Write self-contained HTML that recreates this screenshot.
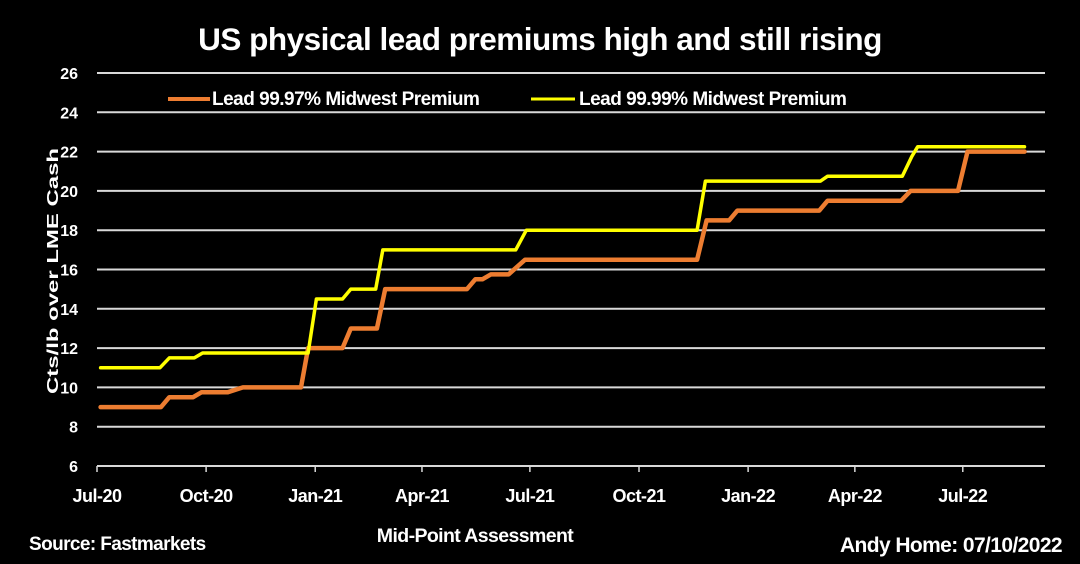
<!DOCTYPE html>
<html><head><meta charset="utf-8"><style>
html,body{margin:0;padding:0;background:#000;}
svg text{font-family:"Liberation Sans",sans-serif;font-weight:bold;fill:#fff;}
</style></head><body>
<svg id="chart" width="1080" height="559" xmlns="http://www.w3.org/2000/svg">
<rect width="1080" height="559" fill="#000"/>
<text x="540" y="50" text-anchor="middle" font-size="31.5" letter-spacing="-0.5">US physical lead premiums high and still rising</text>
<g id="grid"></g><g id="xaxis"></g><g id="series"></g>
<text transform="translate(58,271) rotate(-90)" text-anchor="middle" font-size="16" textLength="246" lengthAdjust="spacingAndGlyphs">Cts/lb over LME Cash</text>
<text x="475" y="542" text-anchor="middle" font-size="19.5" letter-spacing="-0.6">Mid-Point Assessment</text>
<text x="29" y="550" font-size="19" letter-spacing="-0.6">Source: Fastmarkets</text>
<text x="1062" y="552" text-anchor="end" font-size="21" letter-spacing="-0.6">Andy Home: 07/10/2022</text>
<g>
<line x1="168" y1="99" x2="210" y2="99" stroke="#ED7D31" stroke-width="4"/>
<text x="212" y="105" font-size="19" letter-spacing="-0.5">Lead 99.97% Midwest Premium</text>
<line x1="531" y1="99" x2="575" y2="99" stroke="#FFFF00" stroke-width="3"/>
<text x="579" y="105" font-size="19" letter-spacing="-0.5">Lead 99.99% Midwest Premium</text>
</g>
</svg>
<script>
// days since 2020-07-01
const yTicks=[6,8,10,12,14,16,18,20,22,24,26];
const xTickDays=[0,92,184,274,365,457,549,639,730];
const xTickLabels=["Jul-20","Oct-20","Jan-21","Apr-21","Jul-21","Oct-21","Jan-22","Apr-22","Jul-22"];
const days9997=[3,54,61,81,88,110,123,172,178,207,214,236,243,312,319,325,332,347,361,506,514,533,540,609,616,678,686,726,734,782];
const vals9997=[9,9,9.5,9.5,9.75,9.75,10,10,12,12,13,13,15,15,15.5,15.5,15.75,15.75,16.5,16.5,18.5,18.5,19,19,19.5,19.5,20,20,22,22];
const days9999=[3,53,61,82,89,178,185,207,214,235,241,353,362,506,513,610,616,679,687,692,782];
const vals9999=[11,11,11.5,11.5,11.75,11.75,14.5,14.5,15,15,17,17,18,18,20.5,20.5,20.75,20.75,21.75,22.25,22.25];
const NS="http://www.w3.org/2000/svg";
const X0=97,X1=1045,pxPerDay=1.186;
const xs=d=>X0+d*pxPerDay;
const ys=v=>466-(v-6)*(393/20);
function mk(t,a,p){const e=document.createElementNS(NS,t);for(const k in a)e.setAttribute(k,a[k]);p.appendChild(e);return e;}
const grid=document.getElementById('grid');
yTicks.forEach(v=>{
 const l=mk('line',{x1:X0,x2:X1,y1:ys(v),y2:ys(v),stroke:'#d9d9d9','stroke-width':2},grid);
 
 
 const t=mk('text',{x:78,y:ys(v)+6,'text-anchor':'end','font-size':16},grid);
 t.textContent=v;
 
 
});
const xa=document.getElementById('xaxis');
xTickDays.forEach((d,i)=>{
 const tk=mk('line',{x1:xs(d),x2:xs(d),y1:466,y2:472,stroke:'#d9d9d9','stroke-width':1.5},xa);
 
 
 const t=mk('text',{x:xs(d),y:502,'text-anchor':'middle','font-size':18,'letter-spacing':'-0.5'},xa);
 t.textContent=xTickLabels[i];
 
 
});
const sg=document.getElementById('series');
function line(days,vals,col,w,name){
 const p=days.map((d,i)=>xs(d).toFixed(1)+','+ys(vals[i]).toFixed(1)).join(' ');
 const e=mk('polyline',{points:p,fill:'none',stroke:col,'stroke-width':w,'stroke-linejoin':'round','stroke-linecap':'round'},sg);
 
 
}
line(days9997,vals9997,'#ED7D31',4.5,'series-lead-9997');
line(days9999,vals9999,'#FFFF00',3.5,'series-lead-9999');
</script>
</body></html>
